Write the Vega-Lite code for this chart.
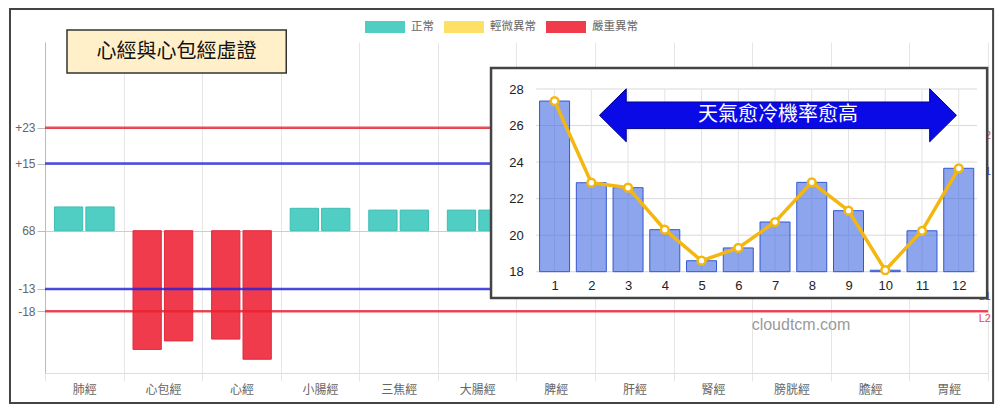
{
  "$schema": "https://vega.github.io/schema/vega-lite/v6.json",
  "width": 943,
  "height": 331,
  "autosize": {"type": "none"},
  "padding": {"left": 45, "top": 42, "right": 12, "bottom": 41},
  "background": "white",
  "config": {"view": {"stroke": null}, "font": "Noto Sans CJK TC"},
  "datasets": {
    "meridians": [
      {"meridian": "肺經", "side": "左", "value": 5.3, "status": "正常"},
      {"meridian": "肺經", "side": "右", "value": 5.3, "status": "正常"},
      {"meridian": "心包經", "side": "左", "value": -26.5, "status": "嚴重異常"},
      {"meridian": "心包經", "side": "右", "value": -24.6, "status": "嚴重異常"},
      {"meridian": "心經", "side": "左", "value": -24.2, "status": "嚴重異常"},
      {"meridian": "心經", "side": "右", "value": -28.7, "status": "嚴重異常"},
      {"meridian": "小腸經", "side": "左", "value": 5.0, "status": "正常"},
      {"meridian": "小腸經", "side": "右", "value": 5.0, "status": "正常"},
      {"meridian": "三焦經", "side": "左", "value": 4.6, "status": "正常"},
      {"meridian": "三焦經", "side": "右", "value": 4.6, "status": "正常"},
      {"meridian": "大腸經", "side": "左", "value": 4.6, "status": "正常"},
      {"meridian": "大腸經", "side": "右", "value": 4.6, "status": "正常"},
      {"meridian": "脾經", "side": "左", "value": 4.5, "status": "正常"},
      {"meridian": "脾經", "side": "右", "value": 4.5, "status": "正常"},
      {"meridian": "肝經", "side": "左", "value": 4.5, "status": "正常"},
      {"meridian": "肝經", "side": "右", "value": 4.5, "status": "正常"},
      {"meridian": "腎經", "side": "左", "value": 4.5, "status": "正常"},
      {"meridian": "腎經", "side": "右", "value": 4.5, "status": "正常"},
      {"meridian": "膀胱經", "side": "左", "value": 4.5, "status": "正常"},
      {"meridian": "膀胱經", "side": "右", "value": 4.5, "status": "正常"},
      {"meridian": "膽經", "side": "左", "value": 4.5, "status": "正常"},
      {"meridian": "膽經", "side": "右", "value": 4.5, "status": "正常"},
      {"meridian": "胃經", "side": "左", "value": 4.5, "status": "正常"},
      {"meridian": "胃經", "side": "右", "value": 4.5, "status": "正常"}
    ],
    "monthly": [
      {"month": 1, "rate": 27.34},
      {"month": 2, "rate": 22.87},
      {"month": 3, "rate": 22.6},
      {"month": 4, "rate": 20.3},
      {"month": 5, "rate": 18.6},
      {"month": 6, "rate": 19.3},
      {"month": 7, "rate": 20.72},
      {"month": 8, "rate": 22.89},
      {"month": 9, "rate": 21.34},
      {"month": 10, "rate": 18.08},
      {"month": 11, "rate": 20.24},
      {"month": 12, "rate": 23.66}
    ]
  },
  "layer": [
    {
      "layer": [
        {
          "data": {"name": "meridians"},
          "mark": {"type": "bar", "strokeWidth": 1},
          "encoding": {
            "x": {
              "field": "meridian", "type": "nominal", "sort": null,
              "scale": {"type": "band", "domain": ["肺經", "心包經", "心經", "小腸經", "三焦經", "大腸經", "脾經", "肝經", "腎經", "膀胱經", "膽經", "胃經"], "paddingInner": 0, "paddingOuter": 0},
              "axis": {"title": null, "labelAngle": 0, "tickBand": "extent", "grid": true, "gridColor": "#e6e6e6", "tickColor": "#e6e6e6", "tickSize": 8, "domainColor": "#dddddd", "labelColor": "#666666", "labelFontSize": 12, "labelFont": "Noto Sans CJK TC", "labelPadding": 3}
            },
            "xOffset": {"field": "side", "type": "nominal", "sort": ["左", "右"], "scale": {"paddingInner": 0.1, "paddingOuter": 0.3}},
            "y": {
              "field": "value", "type": "quantitative",
              "scale": {"domain": [-31.77, 42.13], "nice": false},
              "axis": {"title": null, "values": [23, 15, 0, -13, -18], "labelExpr": "datum.value == 0 ? '68' : (datum.value > 0 ? '+' + datum.value : '' + datum.value)", "grid": true, "gridColor": "#cccccc", "tickColor": "#bbbbbb", "tickSize": 8, "domainColor": "#bbbbbb", "labelColor": "#666666", "labelFont": "Liberation Sans", "labelFontSize": 12, "labelPadding": 2}
            },
            "color": {
              "field": "status", "type": "nominal",
              "scale": {"domain": ["正常", "輕微異常", "嚴重異常"], "range": ["#50CEC4", "#FFE066", "#EF3B4C"]},
              "legend": {"orient": "none", "legendX": 320, "legendY": -35, "direction": "horizontal", "title": null, "symbolType": "M-1,-0.3H1V0.3H-1Z", "symbolSize": 1600, "symbolStrokeWidth": 0, "symbolOpacity": 1, "labelFontSize": 11.5, "labelColor": "#666666", "labelFont": "Noto Sans CJK TC", "labelOffset": 6, "columnPadding": 10}
            },
            "stroke": {
              "field": "status", "type": "nominal",
              "scale": {"domain": ["正常", "輕微異常", "嚴重異常"], "range": ["#3DBDB3", "#F2C200", "#E02A3B"]},
              "legend": null
            }
          }
        },
        {
          "data": {"values": [{"v": 23}, {"v": -18}]},
          "mark": {"type": "rule", "color": "#e8202f", "strokeWidth": 2.5, "opacity": 0.8},
          "encoding": {"y": {"field": "v", "type": "quantitative"}}
        },
        {
          "data": {"values": [{"v": 15}, {"v": -13}]},
          "mark": {"type": "rule", "color": "#2020e0", "strokeWidth": 2.5, "opacity": 0.8},
          "encoding": {"y": {"field": "v", "type": "quantitative"}}
        },
        {
          "data": {"values": [{"v": 23, "t": "U2"}, {"v": -18, "t": "L2"}]},
          "mark": {"type": "text", "color": "#ee4455", "font": "Liberation Sans", "fontSize": 11, "align": "right", "baseline": "top", "dx": 3, "dy": 2},
          "encoding": {"x": {"datum": "胃經", "bandPosition": 1}, "y": {"field": "v", "type": "quantitative"}, "text": {"field": "t"}}
        },
        {
          "data": {"values": [{"v": 15, "t": "U1"}, {"v": -13, "t": "L1"}]},
          "mark": {"type": "text", "color": "#4444ee", "font": "Liberation Sans", "fontSize": 11, "align": "right", "baseline": "top", "dx": 3, "dy": 2},
          "encoding": {"x": {"datum": "胃經", "bandPosition": 1}, "y": {"field": "v", "type": "quantitative"}, "text": {"field": "t"}}
        },
        {
          "data": {"values": [{}]},
          "mark": {"type": "rect", "fill": "#FFF0C9", "stroke": "#333333", "strokeWidth": 1.5},
          "encoding": {"x": {"datum": "肺經", "bandPosition": 0.28}, "x2": {"datum": "小腸經", "bandPosition": 0.07}, "y": {"datum": 44.8}, "y2": {"datum": 35.2}}
        },
        {
          "data": {"values": [{}]},
          "mark": {"type": "text", "text": "心經與心包經虛證", "fontSize": 20, "font": "Noto Sans CJK TC", "color": "#111111", "align": "center", "baseline": "middle"},
          "encoding": {"x": {"datum": "心包經", "bandPosition": 0.674}, "y": {"datum": 39.9}}
        },
        {
          "data": {"values": [{}]},
          "mark": {"type": "text", "text": "cloudtcm.com", "fontSize": 16, "font": "Liberation Sans", "color": "#9a9a9a", "align": "center", "baseline": "middle"},
          "encoding": {"x": {"datum": "膀胱經", "bandPosition": 0.62}, "y": {"datum": -21.05}}
        },
        {
          "data": {"values": [{}]},
          "mark": {"type": "rect", "fill": "white", "stroke": "#444444", "strokeWidth": 2.5},
          "encoding": {"x": {"datum": "大腸經", "bandPosition": 0.676}, "x2": {"datum": "胃經", "bandPosition": 0.989}, "y": {"datum": 36.3}, "y2": {"datum": -15.0}}
        },
        {
          "data": {"values": [{}]},
          "mark": {"type": "rect", "fillOpacity": 0, "stroke": "#444444", "strokeWidth": 2},
          "encoding": {"x": {"datum": "肺經", "bandPosition": -0.4455}, "x2": {"datum": "胃經", "bandPosition": 1.065}, "y": {"datum": 49.5}, "y2": {"datum": -38.47}}
        }
      ]
    },
    {
      "layer": [
        {
          "data": {"values": [{"g": 18}, {"g": 20}, {"g": 22}, {"g": 24}, {"g": 26}, {"g": 28}]},
          "mark": {"type": "rule", "color": "#d9d9d9", "strokeWidth": 1},
          "encoding": {"y": {"field": "g", "type": "quantitative"}, "x": {"datum": 0.5}, "x2": {"datum": 12.5}}
        },
        {
          "data": {"name": "monthly"},
          "mark": {"type": "rule", "color": "#e3e3e3", "strokeWidth": 1},
          "encoding": {"x": {"field": "month", "type": "quantitative"}, "y": {"datum": 18}, "y2": {"datum": 28}}
        },
        {
          "data": {"name": "monthly"},
          "mark": {"type": "bar", "size": 30, "fill": "#4169E1", "fillOpacity": 0.6, "stroke": "#3558d0", "strokeWidth": 1},
          "encoding": {
            "x": {
              "field": "month", "type": "quantitative",
              "scale": {"domain": [0.5, 12.5], "range": [486.2, 937.1], "nice": false, "zero": false},
              "axis": {"title": null, "orient": "bottom", "offset": -101.3, "values": [1, 2, 3, 4, 5, 6, 7, 8, 9, 10, 11, 12], "format": "d", "grid": false, "domain": false, "ticks": false, "tickSize": 0, "labelPadding": 8, "labelColor": "#222222", "labelFont": "Liberation Sans", "labelFontSize": 13, "zindex": 1, "labelFlush": false, "labelOverlap": false}
            },
            "y": {
              "field": "rate", "type": "quantitative",
              "scale": {"domain": [18, 28], "range": [229.7, 47], "nice": false, "zero": false},
              "axis": {"title": null, "orient": "left", "offset": -486.2, "values": [18, 20, 22, 24, 26, 28], "grid": false, "domain": false, "ticks": false, "tickSize": 0, "labelPadding": 8, "labelColor": "#222222", "labelFont": "Liberation Sans", "labelFontSize": 13, "zindex": 1, "labelFlush": false, "labelOverlap": false}
            },
            "y2": {"datum": 18}
          }
        },
        {
          "data": {"name": "monthly"},
          "mark": {"type": "line", "color": "#F4B70F", "strokeWidth": 3.5},
          "encoding": {"x": {"field": "month", "type": "quantitative"}, "y": {"field": "rate", "type": "quantitative"}}
        },
        {
          "data": {"name": "monthly"},
          "mark": {"type": "circle", "fill": "white", "stroke": "#F4B70F", "strokeWidth": 2.5, "size": 60, "opacity": 1},
          "encoding": {"x": {"field": "month", "type": "quantitative"}, "y": {"field": "rate", "type": "quantitative"}}
        },
        {
          "data": {"values": [{}]},
          "mark": {"type": "point", "shape": "M-1,0L-0.85,-0.1485L-0.85,-0.0745L0.85,-0.0745L0.85,-0.1485L1,0L0.85,0.1485L0.85,0.0745L-0.85,0.0745L-0.85,0.1485Z", "size": 127449, "filled": true, "fill": "#0a0ae6", "stroke": "#00008b", "strokeWidth": 1, "opacity": 1},
          "encoding": {"x": {"datum": 7.08}, "y": {"datum": 26.56}}
        },
        {
          "data": {"values": [{}]},
          "mark": {"type": "text", "text": "天氣愈冷機率愈高", "fontSize": 20, "font": "Noto Sans CJK TC", "color": "white", "align": "center", "baseline": "middle"},
          "encoding": {"x": {"datum": 7.08}, "y": {"datum": 26.56}}
        }
      ]
    }
  ],
  "resolve": {
    "scale": {"x": "independent", "y": "independent"},
    "axis": {"x": "independent", "y": "independent"}
  }
}
